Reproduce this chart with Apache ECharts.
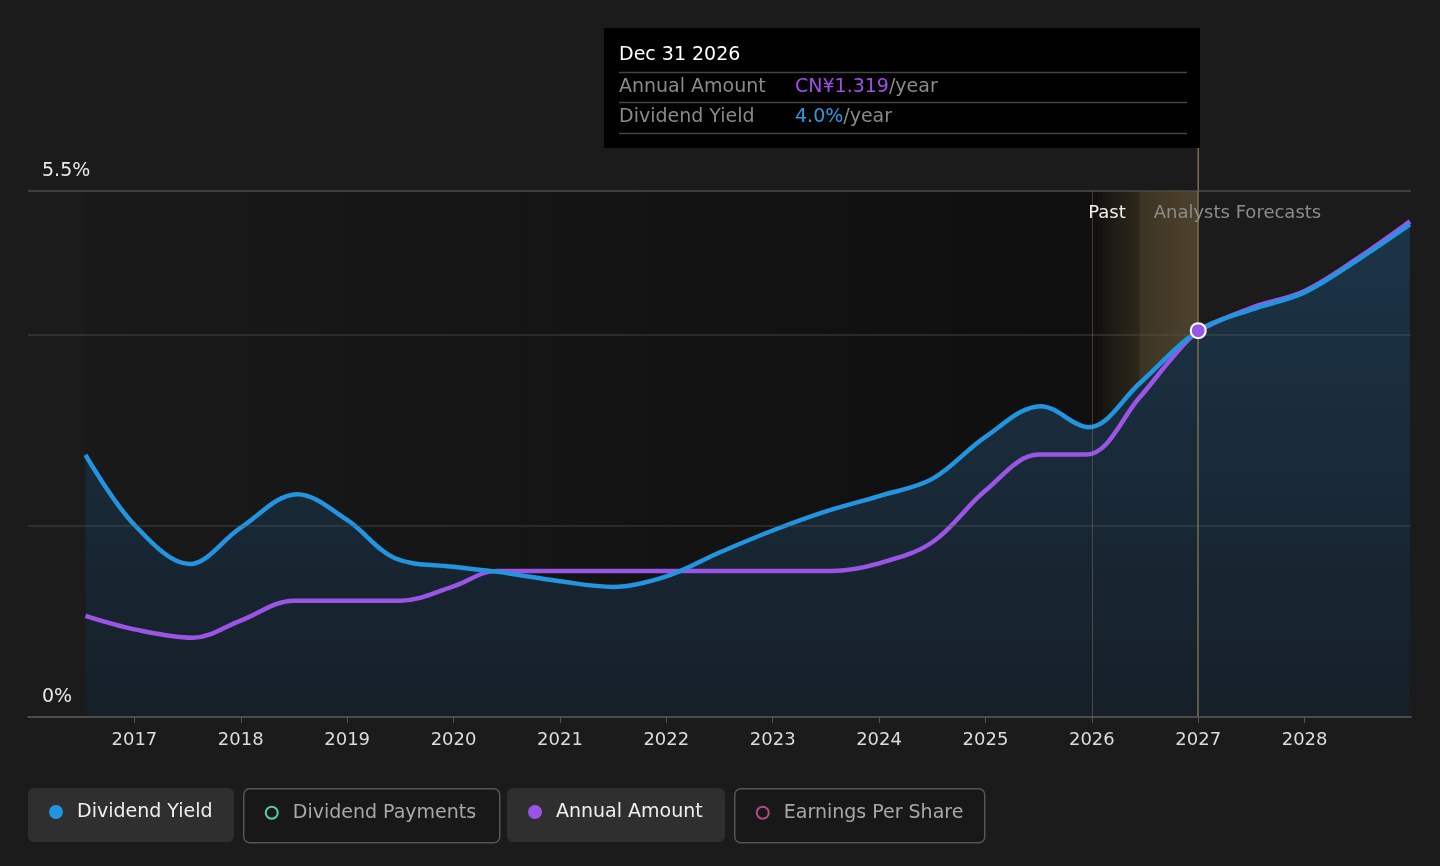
<!DOCTYPE html>
<html>
<head>
<meta charset="utf-8">
<script src="https://cdn.jsdelivr.net/npm/echarts@6/dist/echarts.min.js"></script>
<style>
html, body { margin: 0; padding: 0; background: #1b1b1b; overflow: hidden; }
#chart { width: 1440px; height: 866px; }
</style>
</head>
<body>
<div id="chart"></div>
<script>
'use strict';

// dividend yield, % (x = decimal year)
var yieldYears  = [2016.54, 2017.0, 2017.52, 2018.0, 2018.53, 2019.0, 2019.45, 2020.0, 2020.4, 2021.0, 2021.5, 2022.0, 2022.5, 2023.0, 2023.5, 2024.0, 2024.5, 2025.0, 2025.52, 2025.97, 2026.45, 2027.0, 2027.5, 2028.0, 2028.5, 2028.99];
var yieldValues = [2.74, 2.01, 1.60, 1.98, 2.33, 2.06, 1.66, 1.57, 1.52, 1.42, 1.36, 1.47, 1.72, 1.95, 2.15, 2.31, 2.49, 2.93, 3.25, 3.03, 3.49, 4.04, 4.26, 4.44, 4.78, 5.15];

// annual amount, CN¥ per share
var amountYears  = [2016.54, 2017.0, 2017.55, 2018.0, 2018.5, 2019.5, 2020.0, 2020.4, 2021.0, 2022.0, 2023.0, 2023.55, 2024.0, 2024.5, 2025.0, 2025.5, 2025.95, 2026.45, 2026.76, 2027.0, 2027.5, 2028.0, 2028.5, 2028.99];
var amountValues = [0.346, 0.300, 0.271, 0.330, 0.398, 0.398, 0.447, 0.500, 0.500, 0.500, 0.500, 0.500, 0.526, 0.598, 0.775, 0.898, 0.898, 1.094, 1.231, 1.319, 1.400, 1.458, 1.570, 1.696];

var yearLabels = [2017, 2018, 2019, 2020, 2021, 2022, 2023, 2024, 2025, 2026, 2027, 2028];
var yieldTicks = [0, 5.5];

var pastEnd = 2026.0;
var bandMid = 2026.45;
var hoverYear = 2027.0;
var hoverDate = 'Dec 31 2026';
var hoverAmount = 'CN¥1.319';
var hoverYield = '4.0%';

var FONT = 'DejaVu Sans';
var BLUE = '#2394DF';
var PURPLE = '#9B55E6';
var SMOOTH = 0.35;

function pairs(xs, ys) {
	return xs.map(function (x, i) { return [x, ys[i]]; });
}
function hgrad(c1, c2) {
	return new echarts.graphic.LinearGradient(0, 0, 1, 0, [
		{ offset: 0, color: c1 }, { offset: 1, color: c2 }
	]);
}

var chart = echarts.init(document.getElementById('chart'));

var legendItems = [
	{ name: 'Dividend Yield', x: 28, w: 206, color: BLUE, filled: true },
	{ name: 'Dividend Payments', x: 243, w: 256, color: '#5CC9B2', filled: false },
	{ name: 'Annual Amount', x: 507, w: 218, color: PURPLE, filled: true },
	{ name: 'Earnings Per Share', x: 734, w: 250, color: '#B04C86', filled: false }
];

var graphics = [];
legendItems.forEach(function (it) {
	graphics.push({
		type: 'group', left: it.x, top: 788,
		children: [
			{ type: 'rect', shape: { x: 0, y: 0, width: it.w, height: 54, r: 6 },
			  style: it.filled ? { fill: '#2f2f2f' } : { fill: '#181818', stroke: '#555', lineWidth: 1.5 } },
			{ type: 'circle', shape: { cx: 28, cy: 24, r: it.filled ? 7 : 6 },
			  style: it.filled ? { fill: it.color } : { fill: 'none', stroke: it.color, lineWidth: 2 } },
			{ type: 'text', x: 49, y: 24,
			  style: { text: it.name, fill: it.filled ? '#f0f0f0' : '#a8a8a8', font: '19px "' + FONT + '"', verticalAlign: 'middle' } }
		]
	});
});

// tooltip box
graphics.push({
	type: 'group', left: 604, top: 28,
	children: [
		{ type: 'rect', shape: { x: 0, y: 0, width: 596, height: 120 }, style: { fill: '#000' } },
		{ type: 'text', x: 15, y: 27, style: { text: hoverDate, fill: '#fff', font: '19px "' + FONT + '"', verticalAlign: 'middle' } },
		{ type: 'line', shape: { x1: 15, y1: 44.5, x2: 583, y2: 44.5 }, style: { stroke: '#444', lineWidth: 1.5 } },
		{ type: 'text', x: 15, y: 59, style: { text: 'Annual Amount', fill: '#8a8a8a', font: '19px "' + FONT + '"', verticalAlign: 'middle' } },
		{ type: 'text', x: 191, y: 59, style: {
			text: '{v|' + hoverAmount + '}{u|/year}', verticalAlign: 'middle',
			rich: { v: { fill: '#A14EE8', font: '19px "' + FONT + '"' }, u: { fill: '#8a8a8a', font: '19px "' + FONT + '"' } } } },
		{ type: 'line', shape: { x1: 15, y1: 74.5, x2: 583, y2: 74.5 }, style: { stroke: '#444', lineWidth: 1.5 } },
		{ type: 'text', x: 15, y: 89, style: { text: 'Dividend Yield', fill: '#8a8a8a', font: '19px "' + FONT + '"', verticalAlign: 'middle' } },
		{ type: 'text', x: 191, y: 89, style: {
			text: '{v|' + hoverYield + '}{u|/year}', verticalAlign: 'middle',
			rich: { v: { fill: '#2D9BE0', font: '19px "' + FONT + '"' }, u: { fill: '#8a8a8a', font: '19px "' + FONT + '"' } } } },
		{ type: 'line', shape: { x1: 15, y1: 105.5, x2: 583, y2: 105.5 }, style: { stroke: '#444', lineWidth: 1.5 } }
	]
});

var option = {
	backgroundColor: '#1b1b1b',
	animation: false,
	textStyle: { fontFamily: FONT },
	grid: { left: 28, right: 29, top: 191, bottom: 149 },
	xAxis: {
		type: 'value',
		min: 2016, max: 2029, interval: 1,
		axisLine: { lineStyle: { color: '#555', width: 1.5 } },
		axisTick: { show: true, length: 6, lineStyle: { color: '#555' } },
		axisLabel: {
			color: '#dcdcdc', fontSize: 18, margin: 14,
			showMinLabel: false, showMaxLabel: false,
			formatter: function (v) { return yearLabels.indexOf(v) >= 0 ? String(v) : ''; }
		},
		splitLine: { show: false },
		z: 6
	},
	yAxis: [{
		type: 'value', min: 0, max: 5.5, interval: 2,
		axisLine: { show: false }, axisTick: { show: false },
		axisLabel: {
			inside: true, margin: 14, color: '#e8e8e8', fontSize: 19,
			verticalAlign: 'bottom', padding: [0, 0, 10, 0],
			formatter: function (v) { return yieldTicks.indexOf(v) >= 0 ? v + '%' : ''; }
		},
		splitLine: { lineStyle: { color: ['#3a3a3a', 'rgba(90,90,90,0.45)', 'rgba(90,90,90,0.45)', '#4c4c4c'], width: 1.5 } },
		z: 5
	}, {
		type: 'value', min: 0, max: 1.8, show: false,
		splitLine: { show: false }
	}],
	graphic: graphics,
	series: [{
		// darker "past" backdrop
		name: 'past', type: 'line', data: [], z: 1, silent: true,
		markArea: {
			silent: true,
			data: [
				[{ xAxis: yieldYears[0], itemStyle: { color: hgrad('rgba(0,0,0,0.08)', 'rgba(0,0,0,0.45)') } }, { xAxis: pastEnd }],
				[{ xAxis: pastEnd, itemStyle: { color: hgrad('rgba(0,0,0,0.3)', 'rgba(0,0,0,0.1)') } }, { xAxis: bandMid }]
			]
		}
	}, {
		// opaque fill under the yield curve
		name: 'yield-area', type: 'line', silent: true,
		data: pairs(yieldYears, yieldValues),
		smooth: SMOOTH, symbol: 'none', z: 2,
		lineStyle: { width: 0 },
		areaStyle: {
			opacity: 1,
			color: new echarts.graphic.LinearGradient(0, 0, 0, 1, [
				{ offset: 0, color: '#1b3447' },
				{ offset: 1, color: '#161f28' }
			])
		}
	}, {
		name: 'Annual Amount', type: 'line', yAxisIndex: 1,
		data: pairs(amountYears, amountValues),
		smooth: SMOOTH, symbol: 'none', z: 3,
		lineStyle: { color: PURPLE, width: 4.5 }
	}, {
		name: 'Dividend Yield', type: 'line',
		data: pairs(yieldYears, yieldValues),
		smooth: SMOOTH, symbol: 'none', z: 4,
		lineStyle: { color: BLUE, width: 4.5 },
		markArea: {
			silent: true,
			data: [
				[{ xAxis: pastEnd, itemStyle: { color: hgrad('rgba(0,0,0,0.25)', 'rgba(134,100,40,0.2)') } }, { xAxis: bandMid }],
				[{ xAxis: bandMid, itemStyle: { color: hgrad('rgba(137,111,57,0.3)', 'rgba(185,150,84,0.32)') } }, { xAxis: hoverYear }]
			]
		},
		markLine: {
			silent: true, symbol: 'none', label: { show: false },
			data: [
				{ xAxis: pastEnd, lineStyle: { color: 'rgba(150,130,90,0.4)', width: 1, type: 'solid' } },
				{ xAxis: hoverYear, lineStyle: { color: '#7d6c48', width: 1.5, type: 'solid' } }
			]
		},
		markPoint: {
			silent: true,
			data: [{ coord: [hoverYear, yieldValues[yieldYears.indexOf(hoverYear)]], symbol: 'circle', symbolSize: 15,
				itemStyle: { color: PURPLE, borderColor: '#fff', borderWidth: 2 }, label: { show: false } }]
		}
	}]
};

chart.setOption(option);

// Past / forecast captions and the hover line stub above the grid
var xBand = chart.convertToPixel({ xAxisIndex: 0 }, bandMid);
var xHover = chart.convertToPixel({ xAxisIndex: 0 }, hoverYear);
var yTop = chart.convertToPixel({ yAxisIndex: 0 }, 5.5);
chart.setOption({
	graphic: graphics.concat([
		{ type: 'text', x: xBand - 14, y: yTop + 22, z: 10,
		  style: { text: 'Past', fill: '#f0f0f0', font: '18px "' + FONT + '"', align: 'right', verticalAlign: 'middle' } },
		{ type: 'text', x: xBand + 14, y: yTop + 22, z: 10,
		  style: { text: 'Analysts Forecasts', fill: '#8c8c8c', font: '18px "' + FONT + '"', align: 'left', verticalAlign: 'middle' } },
		{ type: 'line', z: 1, shape: { x1: xHover, y1: 148, x2: xHover, y2: yTop }, style: { stroke: '#7d6c48', lineWidth: 1.5 } }
	])
});
</script>
</body>
</html>
